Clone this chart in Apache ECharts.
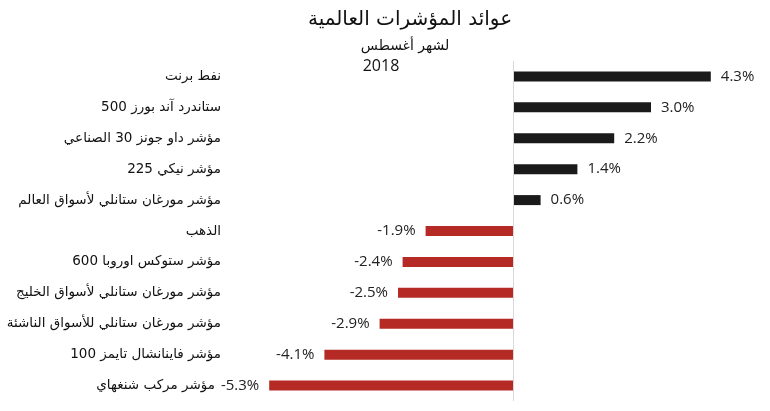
<!DOCTYPE html>
<html>
<head>
<meta charset="utf-8">
<script src="https://cdn.jsdelivr.net/npm/echarts@6/dist/echarts.min.js"></script>
<style>
  html, body { margin: 0; padding: 0; background: #fff; }
  #main { width: 770px; height: 411px; }
</style>
</head>
<body>
<div id="main"></div>
<script>
  // المؤشرات من الأعلى إلى الأسفل
  var categories = [
    'نفط برنت',
    'ستاندرد آند بورز 500',
    'مؤشر داو جونز 30 الصناعي',
    'مؤشر نيكي 225',
    'مؤشر مورغان ستانلي لأسواق العالم',
    'الذهب',
    'مؤشر ستوكس اوروبا 600',
    'مؤشر مورغان ستانلي لأسواق الخليج',
    'مؤشر مورغان ستانلي للأسواق الناشئة',
    'مؤشر فاينانشال تايمز 100',
    'مؤشر مركب شنغهاي'
  ];
  var values = [4.3, 3.0, 2.2, 1.4, 0.6, -1.9, -2.4, -2.5, -2.9, -4.1, -5.3];

  var myChart = echarts.init(document.getElementById('main'));
  var arFont = 'DejaVu Sans';

  var option = {
    backgroundColor: '#fff',
    animation: false,
    title: [
      { text: 'عوائد المؤشرات العالمية', left: 405, top: 5, textAlign: 'center',
        textStyle: { fontFamily: arFont, fontSize: 20, fontWeight: 'normal', color: '#111' } },
      { text: 'لشهر أغسطس', left: 400, top: 34, textAlign: 'center',
        textStyle: { fontFamily: arFont, fontSize: 14, fontWeight: 'normal', color: '#111' } },
      { text: '2018', left: 376, top: 53, textAlign: 'center',
        textStyle: { fontFamily: 'Open Sans', fontSize: 16, fontWeight: 'normal', color: '#111' } }
    ],
    grid: { left: 237, top: 61, width: 506, height: 340 },
    xAxis: {
      type: 'value', min: -6, max: 5, show: false
    },
    yAxis: {
      type: 'category',
      inverse: true,
      data: categories,
      axisLine: { show: false, onZero: false },
      axisTick: { show: false },
      axisLabel: {
        margin: 16,
        color: '#111',
        fontFamily: arFont,
        fontSize: 13.5,
        formatter: function (v, i) {
          // الاسم الأخير يلتصق بقيمة -5.3% كما في الأصل
          if (i === categories.length - 1) return '{last|' + v + '}';
          return v;
        },
        rich: {
          last: { fontFamily: arFont, fontSize: 13.5, color: '#111', padding: [0, 6, 0, 0] }
        }
      }
    },
    series: [{
      type: 'bar',
      barWidth: 10,
      data: values.map(function (v) {
        return {
          value: v,
          itemStyle: { color: v >= 0 ? '#1a1a1a' : '#b52a25' },
          label: { position: v >= 0 ? 'right' : 'left' }
        };
      }),
      label: {
        show: true,
        distance: 10,
        fontFamily: 'Open Sans',
        fontSize: 15,
        color: '#222',
        formatter: function (p) { return p.value.toFixed(1) + '%'; }
      },
      markLine: {
        silent: true,
        symbol: 'none',
        label: { show: false },
        lineStyle: { color: '#d8d8d8', width: 1, type: 'solid' },
        data: [{ xAxis: 0 }]
      }
    }]
  };
  myChart.setOption(option);
</script>
</body>
</html>
